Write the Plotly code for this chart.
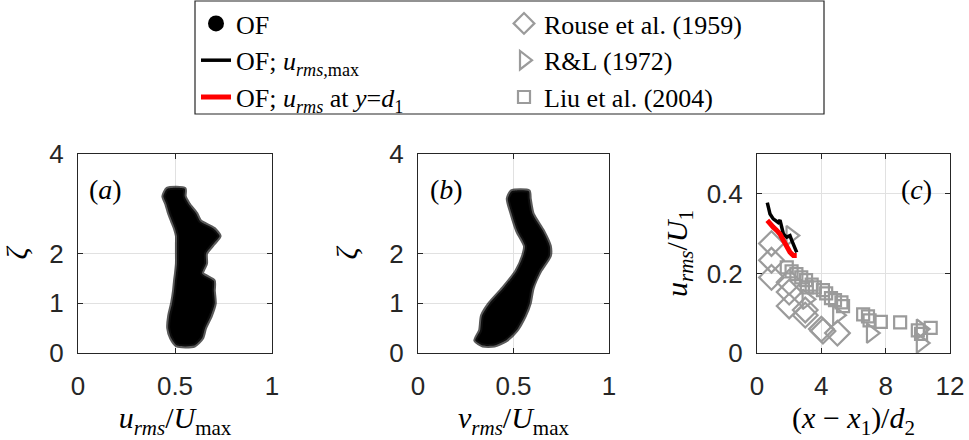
import plotly.graph_objects as go

W, H = 969, 440

# ---------------- data ----------------
# panel (a): envelope of OF u_rms/U_max profiles vs zeta
zeta_a = [0.15, 0.3, 0.5, 0.75, 1.0, 1.25, 1.45, 1.6, 1.8, 2.0, 2.2, 2.35, 2.5, 2.65, 2.8, 3.0, 3.15, 3.3]
ua_left = [0.51, 0.48, 0.465, 0.47, 0.485, 0.495, 0.50, 0.505, 0.51, 0.51, 0.51, 0.51, 0.50, 0.485, 0.47, 0.455, 0.44, 0.46]
ua_right = [0.60, 0.64, 0.655, 0.685, 0.705, 0.70, 0.70, 0.64, 0.66, 0.66, 0.70, 0.73, 0.70, 0.63, 0.61, 0.57, 0.55, 0.55]

# panel (b): envelope of OF v_rms/U_max profiles vs zeta
zeta_b = [0.15, 0.25, 0.45, 0.75, 1.0, 1.3, 1.65, 1.95, 2.15, 2.45, 2.8, 3.1, 3.25]
vb_left = [0.34, 0.30, 0.325, 0.335, 0.375, 0.445, 0.515, 0.55, 0.56, 0.52, 0.49, 0.47, 0.49]
vb_right = [0.40, 0.46, 0.515, 0.56, 0.585, 0.60, 0.64, 0.69, 0.69, 0.655, 0.60, 0.585, 0.58]

# panel (c)
of_max_x = [0.64, 0.81, 1.01, 1.32, 1.43, 1.54, 1.64, 1.85, 2.05, 2.16, 2.36, 2.47]
of_max_y = [0.378, 0.349, 0.337, 0.328, 0.334, 0.316, 0.299, 0.291, 0.295, 0.283, 0.266, 0.253]
of_d1_x = [0.64, 0.81, 1.01, 1.23, 1.43, 1.64, 1.85, 2.05, 2.26, 2.47]
of_d1_y = [0.333, 0.324, 0.316, 0.308, 0.299, 0.283, 0.266, 0.253, 0.245, 0.245]
rouse_x = [0.9, 0.9, 0.9, 2.0, 2.0, 2.0, 3.0, 3.0, 4.0, 4.1, 5.0]
rouse_y = [0.275, 0.233, 0.19, 0.178, 0.153, 0.118, 0.108, 0.095, 0.06, 0.055, 0.05]
rl_x = [2.1, 3.1, 5.0, 7.1, 10.2, 10.2]
rl_y = [0.295, 0.135, 0.095, 0.05, 0.06, 0.025]
liu_x = [1.85, 2.15, 2.45, 2.75, 3.05, 3.1, 3.4, 3.6, 4.1, 4.3, 4.6, 4.85, 5.25, 5.35, 6.6, 6.9, 7.0, 7.7, 8.9, 10.0, 10.2, 10.8]
liu_y = [0.215, 0.205, 0.198, 0.19, 0.183, 0.165, 0.172, 0.165, 0.158, 0.15, 0.138, 0.133, 0.127, 0.118, 0.097, 0.092, 0.082, 0.078, 0.077, 0.057, 0.048, 0.063]

ab_xticks = [0, 0.5, 1]
ab_yticks = [0, 1, 2, 4]
c_xticks = [0, 4, 8, 12]
c_yticks = [0, 0.2, 0.4]

# ---------------- styling ----------------
SERIF = "Liberation Serif"
SANS = "Liberation Sans"
AXC = "#262626"
GRAY = "rgb(155,155,155)"
GRID = "rgb(225,225,225)"

fig = go.Figure()

def envelope(left, right, zeta):
    return left + right[::-1] + [left[0]], zeta + zeta[::-1] + [zeta[0]]

for (lft, rgt, zz, xr, yr) in [(ua_left, ua_right, zeta_a, "x", "y"), (vb_left, vb_right, zeta_b, "x2", "y2")]:
    xe, ye = envelope(lft, rgt, zz)
    fig.add_trace(go.Scatter(x=xe, y=ye, mode="lines", fill="toself",
                             fillcolor="black",
                             line=dict(color="rgba(20,20,20,0.7)", width=4, shape="spline", smoothing=0.6),
                             showlegend=False, xaxis=xr, yaxis=yr, hoverinfo="skip"))

# panel c markers
fig.add_trace(go.Scatter(x=rouse_x, y=rouse_y, mode="markers", name="Rouse et al. (1959)",
                         marker=dict(symbol="diamond-open", size=19, color=GRAY, line=dict(width=2.2, color=GRAY)),
                         xaxis="x3", yaxis="y3", legend="legend2", legendgroup="r"))
fig.add_trace(go.Scatter(x=rl_x, y=rl_y, mode="markers", name="R&amp;L (1972)",
                         marker=dict(symbol="triangle-right-open", size=17, color=GRAY, line=dict(width=2.2, color=GRAY)),
                         xaxis="x3", yaxis="y3", legend="legend2", legendgroup="t"))
fig.add_trace(go.Scatter(x=liu_x, y=liu_y, mode="markers", name="Liu et al. (2004)",
                         marker=dict(symbol="square-open", size=12, color=GRAY, line=dict(width=2.2, color=GRAY)),
                         xaxis="x3", yaxis="y3", legend="legend2", legendgroup="s"))
fig.add_trace(go.Scatter(x=of_max_x, y=of_max_y, mode="lines", name="OF; <i>u</i><sub><i>rms</i>,max</sub>",
                         line=dict(color="black", width=3.5),
                         xaxis="x3", yaxis="y3", legend="legend", legendgroup="m", legendrank=2))
fig.add_trace(go.Scatter(x=of_d1_x, y=of_d1_y, mode="lines",
                         name="OF; <i>u</i><sub><i>rms</i></sub> at <i>y</i>=<i>d</i><sub>1</sub>",
                         line=dict(color="red", width=5),
                         xaxis="x3", yaxis="y3", legend="legend", legendgroup="d", legendrank=3))
# legend entry for OF cloud (legend only)
fig.add_trace(go.Scatter(x=[None], y=[None], mode="markers", name="OF",
                         marker=dict(symbol="circle", size=16, color="black"),
                         xaxis="x", yaxis="y", legend="legend", legendgroup="o", legendrank=1))

def px_x(p):
    return p / W

def px_y(p):
    return 1 - p / H

axis_common = dict(showline=True, linecolor=AXC, linewidth=1, mirror="ticks",
                   ticks="inside", ticklen=5, tickcolor=AXC, tickwidth=1,
                   showgrid=True, gridcolor=GRID, gridwidth=1, zeroline=False,
                   automargin=False,
                   tickfont=dict(family=SANS, size=26, color=AXC))

ydom = [px_y(353), px_y(154)]

def xt(html):
    return dict(text=html, font=dict(family=SERIF, size=30, color="black"), standoff=2)

def yt(html, st):
    return dict(text=html, font=dict(family=SERIF, size=30, color="black"), standoff=st)

LEGFONT = dict(family=SERIF, size=26, color="black")

fig.update_layout(
    width=W, height=H, margin=dict(l=0, r=0, t=0, b=0, autoexpand=False),
    paper_bgcolor="white", plot_bgcolor="white",
    xaxis=dict(domain=[px_x(78), px_x(272)], range=[0, 1], tickvals=ab_xticks, ticktext=["0", "0.5", "1"],
               anchor="y", title=xt("<i>u</i><sub><i>rms</i></sub>/<i>U</i><sub>max</sub>"), ticklabelstandoff=10, **axis_common),
    yaxis=dict(domain=ydom, range=[0, 4], tickvals=ab_yticks, anchor="x",
               title=yt("<i>ζ</i>", 22), ticklabelstandoff=8, **axis_common),
    xaxis2=dict(domain=[px_x(418), px_x(609)], range=[0, 1], tickvals=ab_xticks, ticktext=["0", "0.5", "1"],
                anchor="y2", title=xt("<i>v</i><sub><i>rms</i></sub>/<i>U</i><sub>max</sub>"), ticklabelstandoff=10, **axis_common),
    yaxis2=dict(domain=ydom, range=[0, 4], tickvals=ab_yticks, anchor="x2",
                title=yt("<i>ζ</i>", 22), ticklabelstandoff=8, **axis_common),
    xaxis3=dict(domain=[px_x(757), px_x(950)], range=[0, 12], tickvals=c_xticks,
                anchor="y3", title=xt("(<i>x</i> − <i>x</i><sub>1</sub>)/<i>d</i><sub>2</sub>"), ticklabelstandoff=10, **axis_common),
    yaxis3=dict(domain=ydom, range=[0, 0.5], tickvals=c_yticks, ticktext=["0", "0.2", "0.4"], anchor="x3",
                title=yt("<i>u</i><sub><i>rms</i></sub>/<i>U</i><sub>1</sub>", 10), ticklabelstandoff=8, **axis_common),
    legend=dict(x=px_x(196), y=1, xanchor="left", yanchor="top",
                bgcolor="rgba(0,0,0,0)", borderwidth=0, traceorder="grouped", tracegroupgap=0,
                font=LEGFONT, itemsizing="trace"),
    legend2=dict(x=px_x(504), y=1, xanchor="left", yanchor="top",
                 bgcolor="rgba(0,0,0,0)", borderwidth=0, traceorder="grouped", tracegroupgap=0,
                 font=LEGFONT, itemsizing="trace"),
    shapes=[dict(type="rect", xref="paper", yref="paper", x0=px_x(195), x1=px_x(824),
                 y0=px_y(114), y1=px_y(1), line=dict(color=AXC, width=1.2), fillcolor="rgba(0,0,0,0)")],
    annotations=[
        dict(text="(<i>a</i>)", x=0.14, y=3.28, xref="x", yref="y", showarrow=False,
             font=dict(family=SERIF, size=28, color="black")),
        dict(text="(<i>b</i>)", x=0.15, y=3.28, xref="x2", yref="y2", showarrow=False,
             font=dict(family=SERIF, size=28, color="black")),
        dict(text="(<i>c</i>)", x=9.9, y=0.41, xref="x3", yref="y3", showarrow=False,
             font=dict(family=SERIF, size=28, color="black")),
    ],
)

fig.write_html("out.html", config={"displayModeBar": False},
               post_script="document.body.style.margin='0px';document.body.style.overflow='hidden';")
